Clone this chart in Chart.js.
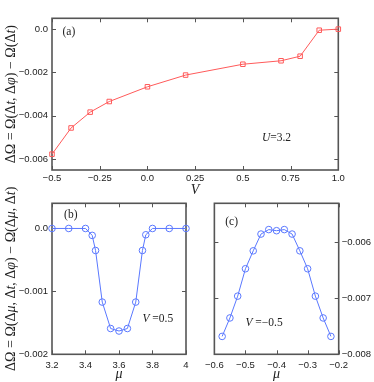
<!DOCTYPE html>
<html><head><meta charset="utf-8">
<script src="https://cdn.jsdelivr.net/npm/chart.js@4/dist/chart.umd.min.js"></script>
<style>
html,body{margin:0;padding:0;background:#fff;overflow:hidden;width:374px;height:382px;}
canvas{position:absolute;}
</style></head><body>
<canvas id="ca" width="374" height="200" style="left:0;top:0"></canvas>
<canvas id="cb" width="200" height="206" style="left:0;top:178px"></canvas>
<canvas id="cc" width="174" height="206" style="left:200px;top:178px"></canvas>
<script>
// ---------- Panel (a) ----------
const vValues = [-0.5, -0.4, -0.3, -0.2, 0.0, 0.2, 0.5, 0.7, 0.8, 0.9, 1.0];
const dOmegaA = [-0.00577, -0.00456, -0.00383, -0.00334, -0.00266, -0.00212, -0.00162, -0.00146, -0.00125, -0.00005, 0.0];
const xTicksA = [-0.5, -0.25, 0, 0.25, 0.5, 0.75, 1.0];
const xTickLabelsA = ["\u22120.5", "\u22120.25", "0.0", "0.25", "0.5", "0.75", "1.0"];
const yTicksA = [-0.006, -0.004, -0.002, 0.0];
const yTickLabelsA = ["\u22120.006", "\u22120.004", "\u22120.002", "0.0"];
// ---------- Panel (b) ----------
const muB = [3.2, 3.3, 3.4, 3.44, 3.46, 3.5, 3.55, 3.6, 3.65, 3.7, 3.74, 3.76, 3.8, 3.9, 4.0];
const dOmegaB = [0, 0, 0, -0.00011, -0.00035, -0.00117, -0.00159, -0.00163, -0.00159, -0.00117, -0.00035, -0.0001, 0, 0, 0];
const xTicksB = [3.2, 3.4, 3.6, 3.8, 4.0];
const xTickLabelsB = ["3.2", "3.4", "3.6", "3.8", "4"];
const yTicksB = [-0.002, -0.001, 0.0];
const yTickLabelsB = ["\u22120.002", "\u22120.001", "0.0"];
// ---------- Panel (c) ----------
const muC = [-0.575, -0.55, -0.525, -0.5, -0.475, -0.45, -0.425, -0.4, -0.375, -0.35, -0.325, -0.3, -0.275, -0.25, -0.225];
const dOmegaC = [-0.00768, -0.00735, -0.00696, -0.00647, -0.00615, -0.00585, -0.00577, -0.00579, -0.00577, -0.00585, -0.00615, -0.00647, -0.00696, -0.00735, -0.00768];
const xTicksC = [-0.6, -0.5, -0.4, -0.3, -0.2];
const xTickLabelsC = ["\u22120.6", "\u22120.5", "\u22120.4", "\u22120.3", "\u22120.2"];
const yTicksC = [-0.008, -0.007, -0.006];
const yTickLabelsC = ["\u22120.008", "\u22120.007", "\u22120.006"];

const TICK_FONT = {family: "'Liberation Sans', Arial, sans-serif", size: 9.5};
const SERIF = "'Liberation Serif', 'DejaVu Serif', serif";
const TXT = '#222';
const FRAME = '#555';
const RED = '#ff5a5a';
const BLUE = '#5a78ff';

function drawRich(ctx, segs, size, x, y, rot) {
  ctx.save();
  ctx.translate(x, y);
  ctx.rotate(rot);
  ctx.textBaseline = 'middle';
  ctx.textAlign = 'left';
  ctx.fillStyle = TXT;
  let total = 0;
  segs.forEach(s => { ctx.font = (s[1] ? 'italic ' : '') + size + 'px ' + SERIF; total += ctx.measureText(s[0]).width; });
  let cx = rot ? -total / 2 : 0;
  segs.forEach(s => { ctx.font = (s[1] ? 'italic ' : '') + size + 'px ' + SERIF; ctx.fillText(s[0], cx, 0); cx += ctx.measureText(s[0]).width; });
  ctx.restore();
}

const framePlugin = {
  id: 'frame',
  beforeDatasetsDraw(chart) {
    const {ctx, chartArea: a, scales} = chart;
    ctx.save();
    ctx.strokeStyle = FRAME;
    ctx.lineWidth = 1;
    const TL = 4;
    scales.x.ticks.forEach(t => {
      const p = Math.round(scales.x.getPixelForValue(t.value)) + 0.5;
      ctx.beginPath();
      ctx.moveTo(p, a.bottom); ctx.lineTo(p, a.bottom - TL);
      ctx.moveTo(p, a.top); ctx.lineTo(p, a.top + TL);
      ctx.stroke();
    });
    scales.y.ticks.forEach(t => {
      const p = Math.round(scales.y.getPixelForValue(t.value)) + 0.5;
      ctx.beginPath();
      ctx.moveTo(a.left, p); ctx.lineTo(a.left + TL, p);
      ctx.moveTo(a.right, p); ctx.lineTo(a.right - TL, p);
      ctx.stroke();
    });
    ctx.lineWidth = 1.6;
    ctx.strokeRect(a.left, a.top, a.right - a.left, a.bottom - a.top);
    ctx.restore();
  },
  afterDraw(chart) {
    const o = chart.options.plugins.frame || {};
    const {ctx, chartArea: a, scales} = chart;
    (o.notes || []).forEach(n => {
      drawRich(ctx, n.segs, n.size, scales.x.getPixelForValue(n.x), scales.y.getPixelForValue(n.y), 0);
    });
    if (o.ytitle) {
      drawRich(ctx, o.ytitle, 14, a.left - 41, (a.top + a.bottom) / 2, -Math.PI / 2);
    }
  }
};

function makeChart(id, cfg) {
  const xs = cfg.xTicks, ys = cfg.yTicks;
  return new Chart(document.getElementById(id), {
    type: 'line',
    data: {
      datasets: [{
        data: cfg.xv.map((v, i) => ({x: v, y: cfg.yv[i]})),
        borderColor: cfg.color,
        borderWidth: 1,
        backgroundColor: 'rgba(0,0,0,0)',
        pointStyle: cfg.pointStyle,
        pointRadius: cfg.pointRadius,
        pointBorderWidth: 1,
        pointBorderColor: cfg.color,
        pointBackgroundColor: 'rgba(0,0,0,0)',
        tension: 0,
        clip: false
      }]
    },
    options: {
      responsive: false,
      animation: false,
      devicePixelRatio: 1,
      layout: {padding: cfg.padding},
      plugins: {
        legend: {display: false},
        tooltip: {enabled: false},
        frame: {notes: cfg.notes, ytitle: cfg.ytitle}
      },
      scales: {
        x: {
          type: 'linear', min: cfg.xmin, max: cfg.xmax,
          afterBuildTicks: s => { s.ticks = xs.map(v => ({value: v})); },
          afterFit: s => { s.height = cfg.xh; },
          grid: {display: false, drawTicks: false},
          border: {display: false},
          ticks: {font: TICK_FONT, color: TXT, padding: cfg.xpad, maxRotation: 0, autoSkip: false,
                  callback: (v, i) => cfg.xLabels[i]},
          title: {display: true, text: cfg.xtitle, color: TXT, padding: 0,
                  font: {family: SERIF, size: 14, style: 'italic'}}
        },
        y: {
          type: 'linear', min: cfg.ymin, max: cfg.ymax, position: cfg.ypos,
          afterBuildTicks: s => { s.ticks = ys.map(v => ({value: v})); },
          afterFit: s => { s.width = cfg.yw; },
          grid: {display: false, drawTicks: false},
          border: {display: false},
          ticks: {font: TICK_FONT, color: TXT, padding: cfg.ypad, autoSkip: false,
                  callback: (v, i) => cfg.yLabels[i]}
        }
      }
    },
    plugins: [framePlugin]
  });
}

makeChart('ca', {
  xv: vValues, yv: dOmegaA, color: RED, pointStyle: 'rect', pointRadius: 3.2,
  xTicks: xTicksA, xLabels: xTickLabelsA, yTicks: yTicksA, yLabels: yTickLabelsA,
  xmin: -0.5, xmax: 1.0, ymin: -0.0065, ymax: 0.0005,
  padding: {left: 0, top: 18.3, right: 35.7, bottom: 1},
  xh: 29, yw: 52, xpad: 3, ypad: 4, ypos: 'left', xtitle: 'V',
  ytitle: [["\u0394\u03A9 = \u03A9(\u0394", 0], ["t", 1], [", \u0394", 0], ["\u03C6", 1], [") \u2212 \u03A9(\u0394", 0], ["t", 1], [")", 0]],
  notes: [
    {x: -0.445, y: -0.00012, size: 11.5, segs: [["(a)", 0]]},
    {x: 0.6, y: -0.00502, size: 11.5, segs: [["U", 1], ["=3.2", 0]]}
  ]
});

makeChart('cb', {
  xv: muB, yv: dOmegaB, color: BLUE, pointStyle: 'circle', pointRadius: 3.3,
  xTicks: xTicksB, xLabels: xTickLabelsB, yTicks: yTicksB, yLabels: yTickLabelsB,
  xmin: 3.2, xmax: 4.0, ymin: -0.002, ymax: 0.0004,
  padding: {left: 0, top: 25.3, right: 14, bottom: 1.2},
  xh: 28.5, yw: 52, xpad: 5, ypad: 4, ypos: 'left', xtitle: '\u03BC',
  ytitle: [["\u0394\u03A9 = \u03A9(\u0394", 0], ["\u03BC", 1], [", \u0394", 0], ["t", 1], [", \u0394", 0], ["\u03C6", 1], [") \u2212 \u03A9(\u0394", 0], ["\u03BC", 1], [", \u0394", 0], ["t", 1], [")", 0]],
  notes: [
    {x: 3.272, y: 0.00022, size: 11.5, segs: [["(b)", 0]]},
    {x: 3.74, y: -0.00144, size: 11.5, segs: [["V", 1], [" =0.5", 0]]}
  ]
});

makeChart('cc', {
  xv: muC, yv: dOmegaC, color: BLUE, pointStyle: 'circle', pointRadius: 3.3,
  xTicks: xTicksC, xLabels: xTickLabelsC, yTicks: yTicksC, yLabels: yTickLabelsC,
  xmin: -0.6, xmax: -0.2, ymin: -0.008, ymax: -0.0053,
  padding: {left: 4.3, top: 25.3, right: 0, bottom: 1.2},
  xh: 28.5, yw: 35.3, xpad: 5, ypad: 3, ypos: 'right', xtitle: '\u03BC',
  notes: [
    {x: -0.565, y: -0.00564, size: 11.5, segs: [["(c)", 0]]},
    {x: -0.5, y: -0.00744, size: 11.5, segs: [["V", 1], [" =\u22120.5", 0]]}
  ]
});
</script>
</body></html>
